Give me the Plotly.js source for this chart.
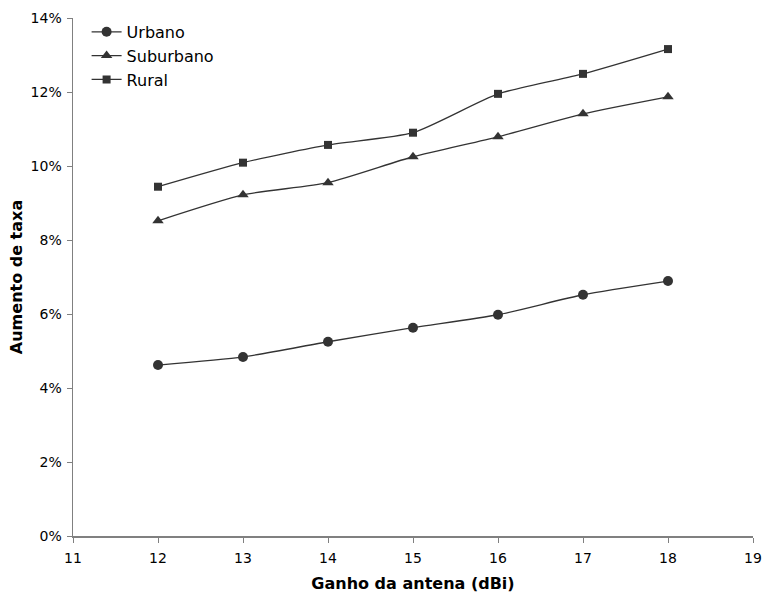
<!DOCTYPE html>
<html>
<head>
<meta charset="utf-8">
<script src="https://cdn.plot.ly/plotly-3.0.1.min.js"></script>
<style>
  html, body { margin: 0; padding: 0; background: #fff; }
  #chart { width: 765px; height: 597px; }
</style>
</head>
<body>
<div id="chart"></div>
<script>
// Antenna gain (dBi) on the x axis
const ganho = [12, 13, 14, 15, 16, 17, 18];

// Rate increase per environment, as fractions
const urbano    = [0.0462, 0.0484, 0.0525, 0.0563, 0.0598, 0.0652, 0.0689];
const suburbano = [0.0852, 0.0922, 0.0955, 0.1025, 0.1079, 0.1141, 0.1187];
const rural     = [0.0944, 0.1009, 0.1057, 0.1090, 0.1195, 0.1249, 0.1316];

const nomes = ['Urbano', 'Suburbano', 'Rural'];
const simbolos = ['circle', 'triangle-up', 'square'];
const series = [urbano, suburbano, rural];

const ink = '#333333';
const traces = series.map((ys, i) => ({
  x: ganho,
  y: ys,
  name: nomes[i],
  type: 'scatter',
  mode: 'lines+markers',
  line: { color: ink, width: 1.3, shape: 'spline', smoothing: 0.6 },
  marker: { symbol: simbolos[i], color: ink, size: i === 2 ? 8 : 10 }
}));

const axisFont = { family: 'DejaVu Sans, Verdana, sans-serif', size: 14, color: '#000' };

const layout = {
  width: 765,
  height: 597,
  paper_bgcolor: '#fff',
  plot_bgcolor: '#fff',
  margin: { l: 73, r: 12, t: 18, b: 61, autoexpand: false },
  showlegend: true,
  legend: {
    x: 0.02, y: 1.006, xanchor: 'left', yanchor: 'top',
    bgcolor: 'rgba(0,0,0,0)',
    font: { family: 'DejaVu Sans, Verdana, sans-serif', size: 16, color: '#000' },
    tracegroupgap: 0
  },
  xaxis: {
    range: [11, 19],
    dtick: 1,
    showgrid: false,
    zeroline: false,
    showline: true,
    linecolor: '#808080',
    linewidth: 1.5,
    ticks: 'outside',
    ticklen: 5,
    tickcolor: '#808080',
    tickfont: axisFont,
    ticklabelstandoff: 4,
    ticklabeloverflow: 'allow',
    automargin: false,
    title: {
      text: 'Ganho da antena (dBi)',
      font: { family: 'DejaVu Sans, Verdana, sans-serif', size: 16, color: '#000', weight: 'bold' },
      standoff: 12
    }
  },
  yaxis: {
    range: [0, 0.14],
    dtick: 0.02,
    tickformat: '.0%',
    showgrid: false,
    zeroline: false,
    showline: true,
    linecolor: '#808080',
    linewidth: 1.5,
    ticks: 'outside',
    ticklen: 5,
    tickcolor: '#808080',
    tickfont: axisFont,
    ticklabelstandoff: 2,
    automargin: false,
    title: {
      text: 'Aumento de taxa',
      font: { family: 'DejaVu Sans, Verdana, sans-serif', size: 16, color: '#000', weight: 'bold' },
      standoff: 4
    }
  }
};

Plotly.newPlot('chart', traces, layout, { displayModeBar: false, staticPlot: true });
</script>
</body>
</html>
